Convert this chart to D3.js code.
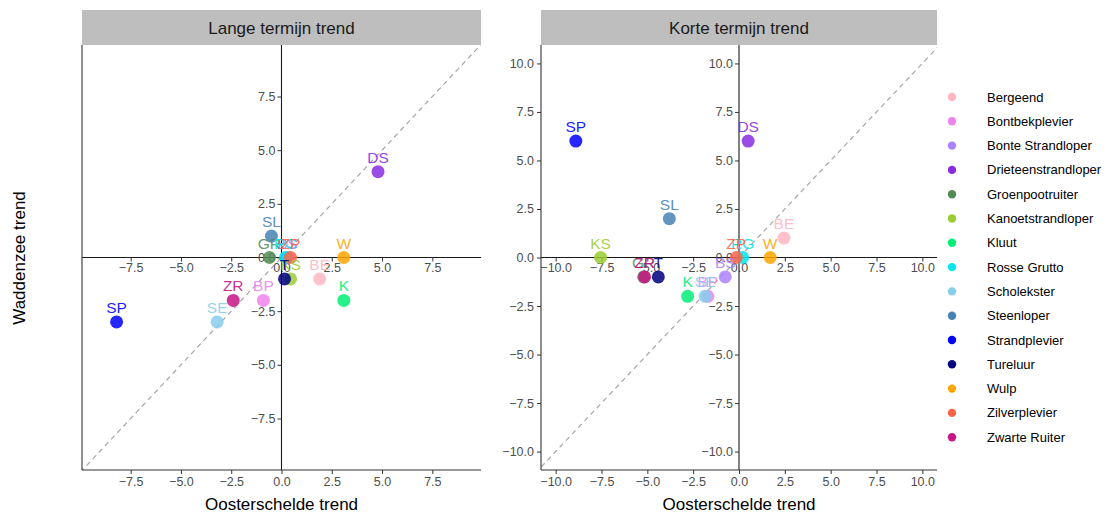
<!DOCTYPE html>
<html><head><meta charset="utf-8">
<script src="https://cdn.jsdelivr.net/npm/d3@7"></script>
<style>body{margin:0;background:#fff;font-family:"Liberation Sans",Arial,sans-serif;}</style>
</head><body><svg id="c" width="1117" height="513"></svg>
<script>
const species = ["Bergeend","Bontbekplevier","Bonte Strandloper","Drieteenstrandloper","Groenpootruiter","Kanoetstrandloper","Kluut","Rosse Grutto","Scholekster","Steenloper","Strandplevier","Tureluur","Wulp","Zilverplevier","Zwarte Ruiter"];
const codes = ["BE","BP","BS","DS","GR","KS","K","RG","SE","SL","SP","T","W","ZP","ZR"];
const colors = ["#FFB6C1","#EE82EE","#AB82FF","#8A2BE2","#548B54","#9ACD32","#00EE76","#00E5EE","#87CEEB","#4682B4","#0000FF","#000080","#FFA500","#FF6347","#C71585"];
// Lange termijn trend
const langeX = [1.9,-0.9,0.3,4.8,-0.6,0.45,3.1,0.2,-3.2,-0.5,-8.2,0.15,3.1,0.45,-2.4];
const langeY = [-1,-2,0,4,0,-1,-2,0,-3,1,-3,-1,0,0,-2];
// Korte termijn trend
const korteX = [2.45,-1.7,-0.75,0.5,-5.2,-7.55,-2.8,0.2,-1.85,-3.8,-8.9,-4.4,1.7,-0.15,-5.15];
const korteY = [1,-2,-1,6,-1,0,-2,0,-2,2,6,-1,0,0,-1];
const ticksLange = [-7.5,-5,-2.5,0,2.5,5,7.5];
const ticksKorte = [-10,-7.5,-5,-2.5,0,2.5,5,7.5,10];
const panelTitles = ["Lange termijn trend","Korte termijn trend"];

const svg = d3.select("#c");
const fmt = d3.format(".1f");
const pTop = 45, pBottom = 470;

const panels = [
  {title: panelTitles[0], x0:82, x1:481, xd:[-9.92,9.92], yd:[-9.9,9.9], xs:langeX, ys:langeY, ticks:ticksLange, leftLabels:false},
  {title: panelTitles[1], x0:541, x1:937, xd:[-10.8,10.8], yd:[-10.95,10.95], xs:korteX, ys:korteY, ticks:ticksKorte, leftLabels:true}
];

panels.forEach((p,pi)=>{
  const x = d3.scaleLinear().domain(p.xd).range([p.x0,p.x1]);
  const y = d3.scaleLinear().domain(p.yd).range([pBottom,pTop]);
  const g = svg.append("g");
  const clipId = "clip"+pi;
  svg.append("clipPath").attr("id",clipId).append("rect").attr("x",p.x0).attr("y",pTop).attr("width",p.x1-p.x0).attr("height",pBottom-pTop);
  // strip
  g.append("rect").attr("x",p.x0).attr("y",10).attr("width",p.x1-p.x0).attr("height",pTop-10).attr("fill","#BEBEBE");
  g.append("text").attr("x",(p.x0+p.x1)/2).attr("y",34).attr("text-anchor","middle").attr("font-size",17).attr("fill","#1A1A1A").text(p.title);
  // diagonal
  g.append("line").attr("clip-path",`url(#${clipId})`)
    .attr("x1",x(p.xd[0]-1)).attr("y1",y(p.xd[0]-1)).attr("x2",x(p.xd[1]+1)).attr("y2",y(p.xd[1]+1))
    .attr("stroke","#A6A6A6").attr("stroke-width",1.2).attr("stroke-dasharray","5,4");
  // inner axes
  const ix = g.append("g").attr("transform",`translate(0,${y(0)})`)
    .call(d3.axisBottom(x).tickValues(p.ticks).tickFormat(fmt).tickSize(4).tickPadding(2));
  ix.select(".domain").attr("d",`M${p.x0},0H${p.x1}`).attr("stroke","#1A1A1A").attr("stroke-width",1.1);
  const iy = g.append("g").attr("transform",`translate(${x(0)},0)`)
    .call(d3.axisLeft(y).tickValues(p.ticks).tickFormat(fmt).tickSize(4).tickPadding(2));
  iy.select(".domain").attr("d",`M0,${pTop}V${pBottom}`).attr("stroke","#1A1A1A").attr("stroke-width",1.1);
  [ix,iy].forEach(a=>{a.selectAll(".tick line").attr("stroke","#333");
    a.selectAll(".tick text").attr("fill","#4D4D4D").attr("font-size",12.5).attr("font-family","Liberation Sans, Arial, sans-serif");});
  // outer axes
  const bx = g.append("g").attr("transform",`translate(0,${pBottom})`)
    .call(d3.axisBottom(x).tickValues(p.ticks).tickFormat(fmt).tickSize(4).tickPadding(3));
  bx.select(".domain").attr("d",`M${p.x0},0H${p.x1}`).attr("stroke","#333").attr("stroke-width",1.1);
  const ly = g.append("g").attr("transform",`translate(${p.x0},0)`)
    .call(d3.axisLeft(y).tickValues(p.leftLabels ? p.ticks : []).tickFormat(fmt).tickSize(4).tickPadding(3));
  ly.select(".domain").attr("d",`M0,${pTop}V${pBottom}`).attr("stroke","#333").attr("stroke-width",1.1);
  [bx,ly].forEach(a=>{a.selectAll(".tick line").attr("stroke","#333");
    a.selectAll(".tick text").attr("fill","#4D4D4D").attr("font-size",12.5).attr("font-family","Liberation Sans, Arial, sans-serif");});
  // points
  const idx = d3.range(species.length);
  g.append("g").selectAll("circle").data(idx).join("circle")
    .attr("cx",i=>x(p.xs[i])).attr("cy",i=>y(p.ys[i])).attr("r",6.5)
    .attr("fill",i=>colors[i]).attr("fill-opacity",0.85);
  g.append("g").selectAll("text").data(idx).join("text")
    .attr("x",i=>x(p.xs[i])).attr("y",i=>y(p.ys[i])-9).attr("text-anchor","middle")
    .attr("font-size",15.5).attr("fill",i=>colors[i]).attr("fill-opacity",0.9).text(i=>codes[i]);
  // x title
  svg.append("text").attr("x",(p.x0+p.x1)/2).attr("y",510).attr("text-anchor","middle")
    .attr("font-size",17).attr("fill","#000").text("Oosterschelde trend");
});

svg.append("text").attr("transform","translate(25,258) rotate(-90)").attr("text-anchor","middle")
  .attr("font-size",17).attr("fill","#000").text("Waddenzee trend");

// legend
const lg = svg.append("g");
species.forEach((s,i)=>{
  const yy = 97 + i*24.3;
  lg.append("circle").attr("cx",952).attr("cy",yy).attr("r",4.2).attr("fill",colors[i]);
  lg.append("text").attr("x",987).attr("y",yy+4.5).attr("font-size",13).attr("fill","#000").text(s);
});
</script></body></html>
